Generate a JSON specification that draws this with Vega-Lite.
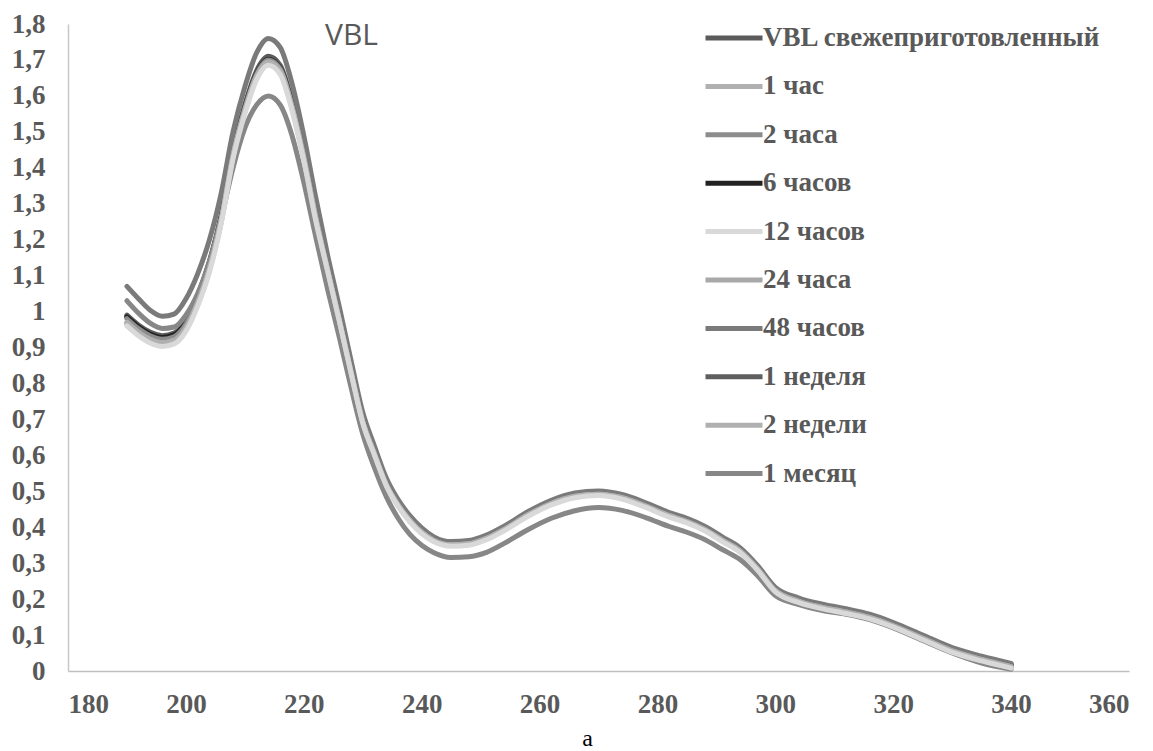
{
  "$schema": "https://vega.github.io/schema/vega-lite/v6.json",
  "width": 1061,
  "height": 647,
  "autosize": {"type": "none"},
  "padding": {"left": 68, "top": 24, "right": 24, "bottom": 80},
  "background": "white",
  "title": {
    "text": "VBL",
    "frame": "group",
    "anchor": "start",
    "dx": 257,
    "offset": -68,
    "baseline": "alphabetic",
    "font": "Open Sans",
    "fontSize": 30,
    "fontWeight": "normal",
    "color": "#595959"
  },
  "data": {
    "values": [
      {"wl":190,"VBL свежеприготовленный":0.99,"1 неделя":0.987,"6 часов":0.985,"2 часа":0.98,"48 часов":1.07,"1 месяц":1.03,"24 часа":0.965,"1 час":0.97,"2 недели":0.97,"12 часов":0.96},
      {"wl":192,"VBL свежеприготовленный":0.962,"1 неделя":0.959,"6 часов":0.957,"2 часа":0.952,"48 часов":1.035,"1 месяц":0.995,"24 часа":0.937,"1 час":0.942,"2 недели":0.942,"12 часов":0.932},
      {"wl":194,"VBL свежеприготовленный":0.942,"1 неделя":0.939,"6 часов":0.937,"2 часа":0.932,"48 часов":1.003,"1 месяц":0.967,"24 часа":0.917,"1 час":0.922,"2 недели":0.922,"12 часов":0.912},
      {"wl":196,"VBL свежеприготовленный":0.933,"1 неделя":0.93,"6 часов":0.928,"2 часа":0.923,"48 часов":0.987,"1 месяц":0.953,"24 часа":0.908,"1 час":0.913,"2 недели":0.913,"12 часов":0.903},
      {"wl":198,"VBL свежеприготовленный":0.94,"1 неделя":0.937,"6 часов":0.935,"2 часа":0.93,"48 часов":0.993,"1 месяц":0.957,"24 часа":0.915,"1 час":0.92,"2 недели":0.92,"12 часов":0.91},
      {"wl":200,"VBL свежеприготовленный":0.975,"1 неделя":0.972,"6 часов":0.97,"2 часа":0.965,"48 часов":1.035,"1 месяц":0.99,"24 часа":0.95,"1 час":0.955,"2 недели":0.955,"12 часов":0.945},
      {"wl":202,"VBL свежеприготовленный":1.045,"1 неделя":1.042,"6 часов":1.04,"2 часа":1.035,"48 часов":1.105,"1 месяц":1.05,"24 часа":1.02,"1 час":1.025,"2 недели":1.025,"12 часов":1.015},
      {"wl":204,"VBL свежеприготовленный":1.14,"1 неделя":1.137,"6 часов":1.135,"2 часа":1.13,"48 часов":1.2,"1 месяц":1.14,"24 часа":1.115,"1 час":1.12,"2 недели":1.12,"12 часов":1.11},
      {"wl":206,"VBL свежеприготовленный":1.27,"1 неделя":1.265,"6 часов":1.262,"2 часа":1.26,"48 часов":1.33,"1 месяц":1.26,"24 часа":1.25,"1 час":1.255,"2 недели":1.252,"12 часов":1.245},
      {"wl":208,"VBL свежеприготовленный":1.45,"1 неделя":1.445,"6 часов":1.442,"2 часа":1.44,"48 часов":1.5,"1 месяц":1.4,"24 часа":1.43,"1 час":1.435,"2 недели":1.432,"12 часов":1.425},
      {"wl":210,"VBL свежеприготовленный":1.575,"1 неделя":1.57,"6 часов":1.567,"2 часа":1.565,"48 часов":1.625,"1 месяц":1.51,"24 часа":1.555,"1 час":1.56,"2 недели":1.557,"12 часов":1.55},
      {"wl":212,"VBL свежеприготовленный":1.67,"1 неделя":1.665,"6 часов":1.662,"2 часа":1.66,"48 часов":1.72,"1 месяц":1.575,"24 часа":1.65,"1 час":1.655,"2 недели":1.652,"12 часов":1.645},
      {"wl":214,"VBL свежеприготовленный":1.71,"1 неделя":1.705,"6 часов":1.702,"2 часа":1.7,"48 часов":1.76,"1 месяц":1.6,"24 часа":1.69,"1 час":1.695,"2 недели":1.692,"12 часов":1.685},
      {"wl":216,"VBL свежеприготовленный":1.685,"1 неделя":1.68,"6 часов":1.677,"2 часа":1.675,"48 часов":1.735,"1 месяц":1.575,"24 часа":1.665,"1 час":1.67,"2 недели":1.667,"12 часов":1.66},
      {"wl":218,"VBL свежеприготовленный":1.585,"1 неделя":1.58,"6 часов":1.577,"2 часа":1.575,"48 часов":1.635,"1 месяц":1.49,"24 часа":1.565,"1 час":1.57,"2 недели":1.567,"12 часов":1.56},
      {"wl":220,"VBL свежеприготовленный":1.445,"1 неделя":1.44,"6 часов":1.437,"2 часа":1.435,"48 часов":1.49,"1 месяц":1.36,"24 часа":1.425,"1 час":1.43,"2 недели":1.427,"12 часов":1.42},
      {"wl":222,"VBL свежеприготовленный":1.28,"1 неделя":1.275,"6 часов":1.272,"2 часа":1.27,"48 часов":1.32,"1 месяц":1.21,"24 часа":1.26,"1 час":1.265,"2 недели":1.262,"12 часов":1.255},
      {"wl":224,"VBL свежеприготовленный":1.125,"1 неделя":1.124,"6 часов":1.123,"2 часа":1.122,"48 часов":1.16,"1 месяц":1.065,"24 часа":1.117,"1 час":1.119,"2 недели":1.119,"12 часов":1.115},
      {"wl":226,"VBL свежеприготовленный":0.985,"1 неделя":0.984,"6 часов":0.983,"2 часа":0.982,"48 часов":1.015,"1 месяц":0.93,"24 часа":0.977,"1 час":0.979,"2 недели":0.979,"12 часов":0.975},
      {"wl":228,"VBL свежеприготовленный":0.84,"1 неделя":0.839,"6 часов":0.838,"2 часа":0.837,"48 часов":0.865,"1 месяц":0.79,"24 часа":0.832,"1 час":0.834,"2 недели":0.834,"12 часов":0.83},
      {"wl":230,"VBL свежеприготовленный":0.7,"1 неделя":0.699,"6 часов":0.698,"2 часа":0.697,"48 часов":0.72,"1 месяц":0.66,"24 часа":0.692,"1 час":0.694,"2 недели":0.694,"12 часов":0.69},
      {"wl":232,"VBL свежеприготовленный":0.61,"1 неделя":0.609,"6 часов":0.608,"2 часа":0.607,"48 часов":0.625,"1 месяц":0.565,"24 часа":0.602,"1 час":0.604,"2 недели":0.604,"12 часов":0.6},
      {"wl":234,"VBL свежеприготовленный":0.525,"1 неделя":0.524,"6 часов":0.523,"2 часа":0.522,"48 часов":0.537,"1 месяц":0.485,"24 часа":0.517,"1 час":0.519,"2 недели":0.519,"12 часов":0.515},
      {"wl":236,"VBL свежеприготовленный":0.468,"1 неделя":0.467,"6 часов":0.466,"2 часа":0.465,"48 часов":0.477,"1 месяц":0.425,"24 часа":0.46,"1 час":0.462,"2 недели":0.462,"12 часов":0.458},
      {"wl":238,"VBL свежеприготовленный":0.425,"1 неделя":0.424,"6 часов":0.423,"2 часа":0.422,"48 часов":0.432,"1 месяц":0.38,"24 часа":0.417,"1 час":0.419,"2 недели":0.419,"12 часов":0.415},
      {"wl":240,"VBL свежеприготовленный":0.392,"1 неделя":0.391,"6 часов":0.39,"2 часа":0.389,"48 часов":0.398,"1 месяц":0.35,"24 часа":0.384,"1 час":0.386,"2 недели":0.386,"12 часов":0.382},
      {"wl":242,"VBL свежеприготовленный":0.37,"1 неделя":0.369,"6 часов":0.368,"2 часа":0.367,"48 часов":0.374,"1 месяц":0.33,"24 часа":0.362,"1 час":0.364,"2 недели":0.364,"12 часов":0.36},
      {"wl":245,"VBL свежеприготовленный":0.357,"1 неделя":0.356,"6 часов":0.355,"2 часа":0.354,"48 часов":0.36,"1 месяц":0.316,"24 часа":0.349,"1 час":0.351,"2 недели":0.351,"12 часов":0.347},
      {"wl":248,"VBL свежеприготовленный":0.36,"1 неделя":0.359,"6 часов":0.358,"2 часа":0.357,"48 часов":0.363,"1 месяц":0.318,"24 часа":0.352,"1 час":0.354,"2 недели":0.354,"12 часов":0.35},
      {"wl":251,"VBL свежеприготовленный":0.375,"1 неделя":0.374,"6 часов":0.373,"2 часа":0.372,"48 часов":0.378,"1 месяц":0.33,"24 часа":0.367,"1 час":0.369,"2 недели":0.369,"12 часов":0.365},
      {"wl":254,"VBL свежеприготовленный":0.4,"1 неделя":0.399,"6 часов":0.398,"2 часа":0.397,"48 часов":0.403,"1 месяц":0.355,"24 часа":0.392,"1 час":0.394,"2 недели":0.394,"12 часов":0.39},
      {"wl":258,"VBL свежеприготовленный":0.44,"1 неделя":0.439,"6 часов":0.438,"2 часа":0.437,"48 часов":0.443,"1 месяц":0.393,"24 часа":0.432,"1 час":0.434,"2 недели":0.434,"12 часов":0.43},
      {"wl":262,"VBL свежеприготовленный":0.472,"1 неделя":0.471,"6 часов":0.47,"2 часа":0.469,"48 часов":0.475,"1 месяц":0.425,"24 часа":0.464,"1 час":0.466,"2 недели":0.466,"12 часов":0.462},
      {"wl":266,"VBL свежеприготовленный":0.492,"1 неделя":0.491,"6 часов":0.49,"2 часа":0.489,"48 часов":0.495,"1 месяц":0.446,"24 часа":0.484,"1 час":0.486,"2 недели":0.486,"12 часов":0.482},
      {"wl":270,"VBL свежеприготовленный":0.498,"1 неделя":0.497,"6 часов":0.496,"2 часа":0.495,"48 часов":0.501,"1 месяц":0.455,"24 часа":0.49,"1 час":0.492,"2 недели":0.492,"12 часов":0.488},
      {"wl":274,"VBL свежеприготовленный":0.488,"1 неделя":0.487,"6 часов":0.486,"2 часа":0.485,"48 часов":0.491,"1 месяц":0.447,"24 часа":0.48,"1 час":0.482,"2 недели":0.482,"12 часов":0.478},
      {"wl":278,"VBL свежеприготовленный":0.465,"1 неделя":0.464,"6 часов":0.463,"2 часа":0.462,"48 часов":0.468,"1 месяц":0.427,"24 часа":0.457,"1 час":0.459,"2 недели":0.459,"12 часов":0.455},
      {"wl":282,"VBL свежеприготовленный":0.438,"1 неделя":0.437,"6 часов":0.436,"2 часа":0.435,"48 часов":0.441,"1 месяц":0.402,"24 часа":0.43,"1 час":0.432,"2 недели":0.432,"12 часов":0.428},
      {"wl":285,"VBL свежеприготовленный":0.422,"1 неделя":0.421,"6 часов":0.42,"2 часа":0.419,"48 часов":0.425,"1 месяц":0.386,"24 часа":0.414,"1 час":0.416,"2 недели":0.416,"12 часов":0.412},
      {"wl":288,"VBL свежеприготовленный":0.4,"1 неделя":0.399,"6 часов":0.398,"2 часа":0.397,"48 часов":0.403,"1 месяц":0.366,"24 часа":0.392,"1 час":0.394,"2 недели":0.394,"12 часов":0.39},
      {"wl":291,"VBL свежеприготовленный":0.37,"1 неделя":0.369,"6 часов":0.368,"2 часа":0.367,"48 часов":0.373,"1 месяц":0.338,"24 часа":0.362,"1 час":0.364,"2 недели":0.364,"12 часов":0.36},
      {"wl":294,"VBL свежеприготовленный":0.34,"1 неделя":0.339,"6 часов":0.338,"2 часа":0.337,"48 часов":0.343,"1 месяц":0.31,"24 часа":0.332,"1 час":0.334,"2 недели":0.334,"12 часов":0.33},
      {"wl":297,"VBL свежеприготовленный":0.29,"1 неделя":0.289,"6 часов":0.288,"2 часа":0.287,"48 часов":0.293,"1 месяц":0.265,"24 часа":0.282,"1 час":0.284,"2 недели":0.284,"12 часов":0.28},
      {"wl":300,"VBL свежеприготовленный":0.23,"1 неделя":0.229,"6 часов":0.228,"2 часа":0.227,"48 часов":0.233,"1 месяц":0.21,"24 часа":0.222,"1 час":0.224,"2 недели":0.224,"12 часов":0.22},
      {"wl":304,"VBL свежеприготовленный":0.2,"1 неделя":0.199,"6 часов":0.198,"2 часа":0.197,"48 часов":0.203,"1 месяц":0.185,"24 часа":0.192,"1 час":0.194,"2 недели":0.194,"12 часов":0.19},
      {"wl":308,"VBL свежеприготовленный":0.183,"1 неделя":0.182,"6 часов":0.181,"2 часа":0.18,"48 часов":0.186,"1 месяц":0.168,"24 часа":0.175,"1 час":0.177,"2 недели":0.177,"12 часов":0.173},
      {"wl":312,"VBL свежеприготовленный":0.17,"1 неделя":0.169,"6 часов":0.168,"2 часа":0.167,"48 часов":0.173,"1 месяц":0.158,"24 часа":0.162,"1 час":0.164,"2 недели":0.164,"12 часов":0.16},
      {"wl":316,"VBL свежеприготовленный":0.155,"1 неделя":0.154,"6 часов":0.153,"2 часа":0.152,"48 часов":0.158,"1 месяц":0.143,"24 часа":0.147,"1 час":0.149,"2 недели":0.149,"12 часов":0.145},
      {"wl":320,"VBL свежеприготовленный":0.132,"1 неделя":0.131,"6 часов":0.13,"2 часа":0.129,"48 часов":0.135,"1 месяц":0.12,"24 часа":0.124,"1 час":0.126,"2 недели":0.126,"12 часов":0.122},
      {"wl":325,"VBL свежеприготовленный":0.097,"1 неделя":0.096,"6 часов":0.095,"2 часа":0.094,"48 часов":0.1,"1 месяц":0.085,"24 часа":0.089,"1 час":0.091,"2 недели":0.091,"12 часов":0.087},
      {"wl":330,"VBL свежеприготовленный":0.062,"1 неделя":0.061,"6 часов":0.06,"2 часа":0.059,"48 часов":0.065,"1 месяц":0.05,"24 часа":0.054,"1 час":0.056,"2 недели":0.056,"12 часов":0.052},
      {"wl":335,"VBL свежеприготовленный":0.038,"1 неделя":0.037,"6 часов":0.036,"2 часа":0.035,"48 часов":0.041,"1 месяц":0.022,"24 часа":0.03,"1 час":0.032,"2 недели":0.032,"12 часов":0.028},
      {"wl":340,"VBL свежеприготовленный":0.018,"1 неделя":0.017,"6 часов":0.016,"2 часа":0.015,"48 часов":0.021,"1 месяц":0.005,"24 часа":0.01,"1 час":0.012,"2 недели":0.012,"12 часов":0.008}
    ]
  },
  "transform": [
    {
      "fold": ["VBL свежеприготовленный", "1 неделя", "6 часов", "2 часа", "48 часов", "1 месяц", "24 часа", "1 час", "2 недели", "12 часов"],
      "as": ["series", "absorbance"]
    }
  ],
  "mark": {"type": "line", "interpolate": "monotone", "strokeWidth": 5, "strokeCap": "round", "strokeJoin": "round"},
  "encoding": {
    "x": {
      "field": "wl",
      "type": "quantitative",
      "scale": {"domain": [180, 360], "nice": false, "zero": false},
      "axis": {
        "values": [180, 200, 220, 240, 260, 280, 300, 320, 340, 360],
        "title": "а",
        "titleFont": "'Liberation Serif', 'Times New Roman', serif",
        "titleFontSize": 24,
        "titleFontWeight": "normal",
        "titleColor": "#000000",
        "titleX": 519,
        "titleY": 74,
        "titleAlign": "center",
        "titleBaseline": "alphabetic",
        "labelPadding": 20
      }
    },
    "y": {
      "field": "absorbance",
      "type": "quantitative",
      "scale": {"domain": [0, 1.8], "nice": false},
      "axis": {
        "values": [0, 0.1, 0.2, 0.3, 0.4, 0.5, 0.6, 0.7, 0.8, 0.9, 1, 1.1, 1.2, 1.3, 1.4, 1.5, 1.6, 1.7, 1.8],
        "labelExpr": "replace(format(datum.value, '.1~f'), '.', ',')",
        "title": null,
        "labelPadding": 23
      }
    },
    "color": {
      "field": "series",
      "type": "nominal",
      "scale": {
        "domain": ["VBL свежеприготовленный", "1 час", "2 часа", "6 часов", "12 часов", "24 часа", "48 часов", "1 неделя", "2 недели", "1 месяц"],
        "range": ["#5b5b5b", "#b0b0b0", "#8c8c8c", "#222222", "#d9d9d9", "#a8a8a8", "#7a7a7a", "#5f5f5f", "#b0b0b0", "#878787"]
      },
      "legend": {
        "title": null,
        "orient": "none",
        "legendX": 635,
        "legendY": -17,
        "padding": 0,
        "symbolType": "stroke",
        "symbolSize": 3249,
        "symbolStrokeWidth": 5,
        "symbolOffset": 0,
        "labelOffset": -2,
        "labelFont": "'Liberation Serif', 'Times New Roman', serif",
        "labelFontSize": 27,
        "labelFontWeight": "bold",
        "labelColor": "#595959",
        "labelLimit": 0,
        "rowPadding": 4.4
      }
    }
  },
  "config": {
    "view": {"stroke": null},
    "axis": {
      "grid": false,
      "ticks": false,
      "domainColor": "#bfbfbf",
      "domainWidth": 1.5,
      "labelFont": "'Liberation Serif', 'Times New Roman', serif",
      "labelFontSize": 27,
      "labelFontWeight": "bold",
      "labelColor": "#595959"
    },
    "axisY": {"domainColor": "#c8c8c8"}
  }
}
